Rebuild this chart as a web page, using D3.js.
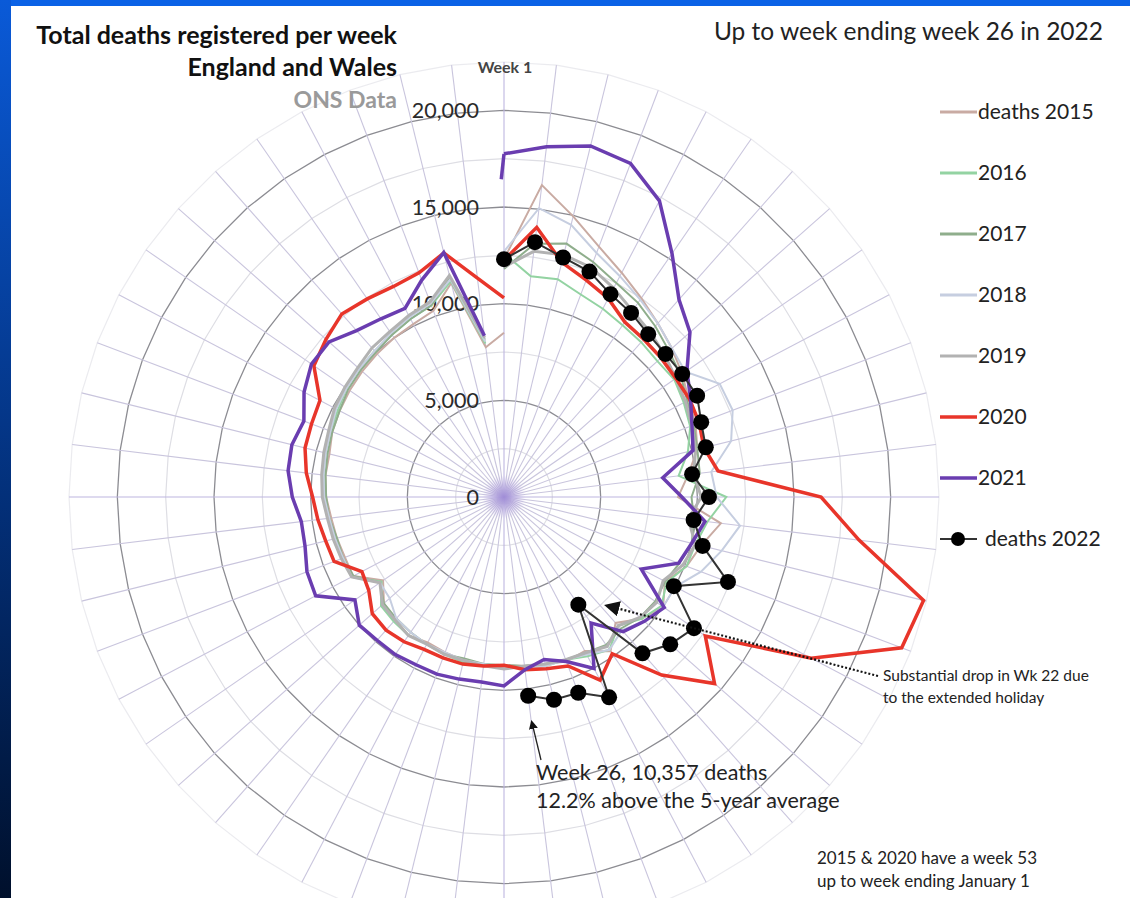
<!DOCTYPE html>
<html>
<head>
<meta charset="utf-8">
<title>Total deaths registered per week</title>
<script src="https://d3js.org/d3.v7.min.js"></script>
<style>
  html, body { margin: 0; padding: 0; background: #fff; }
  svg text { font-family: Lato, "Open Sans", sans-serif; }
</style>
</head>
<body>
<div id="chart"></div>
<script>
// weekly registered deaths, England and Wales
var deaths2015 = [12300, 16250, 14950, 13850, 13100, 12500, 12000, 11600, 11200, 10800, 10600, 10300, 9600, 9000, 11300, 10500, 10100, 9400, 10000, 9500, 8700, 9700, 9000, 9100, 8900, 8800, 8700, 8800, 8700, 8600, 8500, 8700, 8500, 8300, 7600, 8800, 8800, 8900, 9000, 9200, 9300, 9300, 9500, 9600, 9700, 9800, 9900, 10000, 10100, 10300, 11400, 7800, 8500]
var deaths2016 = [12600, 11500, 11600, 11200, 11000, 10800, 10700, 10600, 10700, 10500, 10300, 9800, 9100, 11500, 10600, 10200, 10100, 9500, 9900, 9500, 8900, 9600, 9300, 9000, 9000, 8900, 8800, 8700, 8800, 8700, 8600, 8700, 8600, 8500, 7700, 8900, 8900, 9000, 9100, 9300, 9400, 9500, 9600, 9700, 9900, 10000, 10100, 10200, 10400, 10600, 11500, 8000]
var deaths2017 = [11800, 13200, 13500, 13000, 12500, 12200, 11800, 11400, 11100, 10700, 10500, 10300, 10200, 9700, 9900, 10000, 9700, 9400, 9500, 9400, 9100, 9300, 9100, 9000, 8900, 8800, 8700, 8700, 8600, 8700, 8600, 8500, 8400, 8300, 7800, 8800, 8900, 8900, 9100, 9200, 9300, 9400, 9500, 9600, 9800, 9900, 10000, 10200, 10400, 10600, 11700, 8200]
var deaths2018 = [12700, 15050, 14500, 13500, 12900, 12400, 12000, 11600, 11400, 12600, 12650, 12100, 10800, 11000, 12300, 11600, 10900, 10000, 10000, 9700, 9200, 9600, 9200, 9000, 9000, 8900, 8800, 8700, 8700, 8600, 8600, 8500, 8400, 7900, 7800, 8900, 8900, 9000, 9100, 9300, 9400, 9500, 9600, 9800, 9900, 10000, 10100, 10300, 10500, 10700, 11600, 8100]
var deaths2019 = [11900, 12800, 12900, 12700, 12200, 11700, 11400, 11100, 10800, 10600, 10400, 10200, 9900, 10200, 9600, 10200, 9900, 9300, 9600, 9400, 8900, 9400, 9100, 9000, 8900, 8800, 8900, 8800, 8700, 8700, 8600, 8700, 8500, 8400, 7800, 8900, 9000, 9100, 9200, 9400, 9500, 9600, 9700, 9900, 10000, 10100, 10300, 10400, 10600, 10800, 11800, 8300]
var deaths2020 = [12250, 14050, 12500, 12000, 11600, 11000, 10900, 10850, 10800, 10850, 10800, 10650, 11150, 16400, 18500, 22350, 22000, 17950, 12650, 14550, 12300, 9850, 10700, 9350, 9150, 9000, 8700, 8800, 8900, 8900, 8900, 9100, 9200, 9100, 8500, 8300, 9400, 9500, 9700, 9900, 10300, 10600, 10650, 10750, 11950, 12300, 12650, 12450, 12300, 12400, 13000, 11400, 10300]
var deaths2021 = [17750, 18250, 18700, 18450, 17300, 15300, 13650, 12850, 11500, 10900, 10400, 10070, 8270, 9200, 10470, 10000, 9660, 8020, 10070, 9700, 9300, 7930, 10020, 9100, 8660, 9000, 9770, 9640, 9700, 9800, 9800, 9900, 9900, 10000, 9370, 11000, 10900, 10600, 10560, 10950, 11250, 11300, 11070, 11680, 12100, 12090, 11500, 11200, 11020, 12000, 13020, 8400]
var deaths2022 = [12300, 13280, 12760, 12470, 11850, 11570, 11250, 11160, 11200, 11280, 10910, 10750, 9800, 10600, 9880, 10580, 12390, 9920, 11940, 11490, 10800, 6770, 11700, 10830, 10800, 10357]

var seriesNames = ["deaths 2015", "2016", "2017", "2018", "2019", "2020", "2021", "deaths 2022"]
var radialTicks = [0, 5000, 10000, 15000, 20000]
var gridLevels = [2500, 5000, 7500, 10000, 12500, 15000, 17500, 20000, 22500]
var weeks = d3.range(1, 53)

var series = [
  {name: seriesNames[0], values: deaths2015, color: "#c9aba3", width: 2},
  {name: seriesNames[1], values: deaths2016, color: "#93d3a2", width: 2},
  {name: seriesNames[2], values: deaths2017, color: "#8fae8c", width: 2},
  {name: seriesNames[3], values: deaths2018, color: "#c6cee0", width: 2},
  {name: seriesNames[4], values: deaths2019, color: "#b2b2b2", width: 3},
  {name: seriesNames[5], values: deaths2020, color: "#e8352a", width: 3.5},
  {name: seriesNames[6], values: deaths2021, color: "#6a3db0", width: 3.5},
  {name: seriesNames[7], values: deaths2022, color: "#333333", width: 2}
]

var width = 1130, height = 898
var cx = 504, cy = 497

var svg = d3.select("#chart").append("svg")
  .attr("width", width)
  .attr("height", height)

// slide frame
var defs = svg.append("defs")
var side = defs.append("linearGradient").attr("id", "side").attr("x1", 0).attr("y1", 0).attr("x2", 0).attr("y2", 1)
side.append("stop").attr("offset", "0%").attr("stop-color", "#0a5ad8")
side.append("stop").attr("offset", "55%").attr("stop-color", "#03307a")
side.append("stop").attr("offset", "100%").attr("stop-color", "#00102c")
var glow = defs.append("radialGradient").attr("id", "glow")
glow.append("stop").attr("offset", "0%").attr("stop-color", "#9b86d6").attr("stop-opacity", 0.9)
glow.append("stop").attr("offset", "100%").attr("stop-color", "#b9a8e6").attr("stop-opacity", 0)

svg.append("rect").attr("width", width).attr("height", height).attr("fill", "#fff")
svg.append("rect").attr("width", width).attr("height", 6).attr("fill", "#0b62e6")
svg.append("rect").attr("width", 11).attr("height", height).attr("fill", "url(#side)")

// scales
var angle = d3.scaleLinear().domain([1, 53]).range([0, 2 * Math.PI])
var r = d3.scaleLinear().domain([0, 22500]).range([0, 435])

function px(v, w) { return r(v) * Math.sin(angle(w)) }
function py(v, w) { return -r(v) * Math.cos(angle(w)) }

var g = svg.append("g").attr("transform", "translate(" + cx + "," + cy + ")")

// polygon gridlines
var ring = d3.lineRadial()
  .angle(function(d) { return angle(d) })
  .curve(d3.curveLinearClosed)

g.selectAll(".ring")
  .data(gridLevels)
  .enter().append("path")
  .attr("class", "ring")
  .attr("d", function(lv) { return ring.radius(r(lv))(weeks) })
  .attr("fill", "none")
  .attr("stroke", function(lv) { return lv % 5000 == 0 ? "#8c8c92" : "#dedee4" })
  .attr("stroke-opacity", function(lv) { return lv == 22500 ? 0.6 : 1 })
  .attr("stroke-width", function(lv) { return lv % 5000 == 0 ? 1.3 : 1.2 })

// spokes
g.selectAll(".spoke")
  .data(weeks)
  .enter().append("line")
  .attr("class", "spoke")
  .attr("x1", 0).attr("y1", 0)
  .attr("x2", function(w) { return px(22500, w) })
  .attr("y2", function(w) { return py(22500, w) })
  .attr("stroke", function(w) { return (w - 1) % 13 == 0 ? "#bdb6e0" : "#c9c5dd" })
  .attr("stroke-width", 1.1)

g.append("circle").attr("r", 22).attr("fill", "url(#glow)")

// radial axis labels
g.selectAll(".tick")
  .data(radialTicks)
  .enter().append("text")
  .attr("x", -25)
  .attr("y", function(d) { return -r(d) })
  .attr("dy", "0.35em")
  .attr("text-anchor", "end")
  .attr("font-size", 21.5)
  .attr("fill", "#2a2a2a")
  .text(d3.format(","))

g.append("text")
  .attr("x", 1).attr("y", -r(22500) + 11)
  .attr("text-anchor", "middle")
  .attr("font-size", 16)
  .attr("font-weight", "bold")
  .attr("fill", "#444")
  .text("Week 1")

// data lines
var line = d3.lineRadial()
  .angle(function(d, i) { return angle(i + 1) })
  .radius(function(d) { return r(d) })

g.selectAll(".series")
  .data(series)
  .enter().append("path")
  .attr("class", "series")
  .attr("d", function(s) { return line(s.values) })
  .attr("fill", "none")
  .attr("stroke", function(s) { return s.color })
  .attr("stroke-width", function(s) { return s.width })
  .attr("stroke-linejoin", "miter")

// what is left visible of the 2021 closing segment (week 52 back to week 1)
var last21 = [px(deaths2021[51], 52), py(deaths2021[51], 52)]
var first21 = [px(deaths2021[0], 1), py(deaths2021[0], 1)]
var stub = d3.interpolate(last21, first21)
g.append("line")
  .attr("x1", stub(0.86)[0]).attr("y1", stub(0.86)[1])
  .attr("x2", first21[0]).attr("y2", first21[1])
  .attr("stroke", series[6].color).attr("stroke-width", 3.5)

g.selectAll(".dot")
  .data(deaths2022)
  .enter().append("circle")
  .attr("cx", function(d, i) { return px(d, i + 1) })
  .attr("cy", function(d, i) { return py(d, i + 1) })
  .attr("r", 8)
  .attr("fill", "#000")

// titles
var title = svg.append("g").attr("text-anchor", "end").attr("font-weight", "bold")
title.append("text").attr("x", 397).attr("y", 44).attr("font-size", 25).attr("fill", "#111").text("Total deaths registered per week")
title.append("text").attr("x", 397).attr("y", 76).attr("font-size", 25).attr("fill", "#111").text("England and Wales")
title.append("text").attr("x", 397).attr("y", 108).attr("font-size", 23).attr("fill", "#9a9a9a").text("ONS Data")

svg.append("text").attr("x", 1103).attr("y", 40).attr("text-anchor", "end")
  .attr("font-size", 24.5).attr("fill", "#222").text("Up to week ending week 26 in 2022")

// legend
var legend = svg.selectAll(".legend")
  .data(series)
  .enter().append("g")
  .attr("transform", function(s, i) { return "translate(940," + (112 + i * 61) + ")" })

legend.append("line")
  .attr("x1", 0).attr("x2", 37).attr("y1", 0).attr("y2", 0)
  .attr("stroke", function(s) { return s.color })
  .attr("stroke-width", function(s, i) { return i == 7 ? 2 : Math.max(3, s.width) })

legend.filter(function(s, i) { return i == 7 })
  .append("circle").attr("cx", 18).attr("r", 7).attr("fill", "#000")

legend.append("text")
  .attr("x", function(s, i) { return i == 7 ? 45 : 38 })
  .attr("dy", "0.35em")
  .attr("font-size", 21)
  .attr("fill", "#222")
  .text(function(s) { return s.name })

// annotations
defs.append("marker").attr("id", "head").attr("viewBox", "0 0 10 10")
  .attr("refX", 2).attr("refY", 5).attr("markerWidth", 7).attr("markerHeight", 7)
  .attr("orient", "auto-start-reverse")
  .append("path").attr("d", "M0,0L10,5L0,10z").attr("fill", "#111")

svg.append("line")
  .attr("x1", 878).attr("y1", 676).attr("x2", 616).attr("y2", 608)
  .attr("stroke", "#111").attr("stroke-width", 2.2).attr("stroke-dasharray", "2,2")
  .attr("marker-end", "url(#head)")

svg.append("line")
  .attr("x1", 541).attr("y1", 760).attr("x2", 533).attr("y2", 727)
  .attr("stroke", "#222").attr("stroke-width", 1.3)
  .attr("marker-end", "url(#head)")

var note = svg.append("g").attr("font-size", 15.5).attr("fill", "#222")
note.append("text").attr("x", 883).attr("y", 681).text("Substantial drop in Wk 22 due")
note.append("text").attr("x", 883).attr("y", 703).text("to the extended holiday")

var wk26 = svg.append("g").attr("font-size", 21.5).attr("fill", "#222")
wk26.append("text").attr("x", 536).attr("y", 780).text("Week 26, 10,357 deaths")
wk26.append("text").attr("x", 536).attr("y", 808).text("12.2% above the 5-year average")

var foot = svg.append("g").attr("font-size", 17).attr("fill", "#222")
foot.append("text").attr("x", 817).attr("y", 864).text("2015 & 2020 have a week 53")
foot.append("text").attr("x", 817).attr("y", 887).text("up to week ending January 1")
</script>
</body>
</html>
